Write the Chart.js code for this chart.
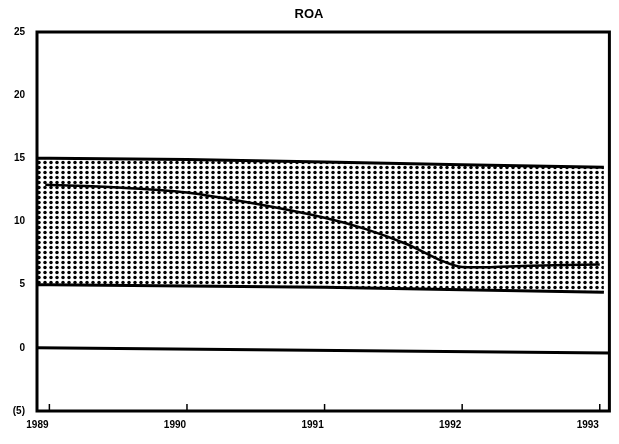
<!DOCTYPE html>
<html>
<head>
<meta charset="utf-8">
<script src="https://cdn.jsdelivr.net/npm/chart.js@4"></script>
<style>
html,body{margin:0;padding:0;background:#fff;}
#wrap{width:619px;height:444px;}
</style>
</head>
<body>
<div id="wrap"><canvas id="c" width="619" height="444"></canvas></div>
<script>
const titleText = "ROA";
const xTickLabels = ["1989", "1990", "1991", "1992", "1993"];
const yTickLabels = { "-5": "(5)", "0": "0", "5": "5", "10": "10", "15": "15", "20": "20", "25": "25" };

const bandX = [-0.09, 0, 1, 2, 3, 4.03];
const bandUpper = [15.0, 15.0, 14.9, 14.7, 14.5, 14.3];
const bandLower = [5.0, 5.0, 4.9, 4.8, 4.6, 4.4];

const roaX = [-0.03, 0.5, 1, 1.5, 2, 2.3, 2.6, 2.85, 3, 3.5, 4];
const roaY = [12.9, 12.7, 12.3, 11.4, 10.3, 9.4, 8.2, 6.9, 6.4, 6.5, 6.6];

const zeroX = [-0.09, 4.07];
const zeroY = [0, -0.4];

function pts(xs, ys) { return xs.map((x, i) => ({ x: x, y: ys[i] })); }

function makePattern() {
  const p = document.createElement('canvas');
  p.width = 6; p.height = 5;
  const g = p.getContext('2d');
  g.fillStyle = '#fff';
  g.fillRect(0, 0, 6, 5);
  g.fillStyle = '#000';
  g.beginPath();
  g.arc(3, 2.5, 1.75, 0, Math.PI * 2);
  g.fill();
  return g.createPattern(p, 'repeat');
}

const ctx = document.getElementById('c').getContext('2d');
const pattern = makePattern();

const frame = {
  id: 'frame',
  afterDatasetsDraw(chart) {
    const { ctx, chartArea: a, scales } = chart;
    ctx.save();
    ctx.strokeStyle = '#000';
    ctx.lineWidth = 3;
    ctx.strokeRect(a.left, a.top, a.right - a.left, a.bottom - a.top);
    ctx.lineWidth = 1.5;
    xTickLabels.forEach((_, i) => {
      const x = scales.x.getPixelForValue(i);
      ctx.beginPath();
      ctx.moveTo(x, a.bottom);
      ctx.lineTo(x, a.bottom - 7);
      ctx.stroke();
    });
    ctx.fillStyle = '#000';
    ctx.font = 'bold 13px "Liberation Sans", Arial, sans-serif';
    ctx.textAlign = 'center';
    ctx.textBaseline = 'middle';
    ctx.fillText(titleText, 309, 14);
    ctx.restore();
  }
};

new Chart(ctx, {
  type: 'line',
  data: {
    datasets: [
      { data: pts(bandX, bandUpper), borderColor: '#000', borderWidth: 3, pointRadius: 0, fill: '+1', backgroundColor: pattern, tension: 0 },
      { data: pts(bandX, bandLower), borderColor: '#000', borderWidth: 3, pointRadius: 0, fill: false, tension: 0 },
      { data: pts(roaX, roaY), borderColor: '#000', borderWidth: 2.5, pointRadius: 0, fill: false, tension: 0.3 },
      { data: pts(zeroX, zeroY), borderColor: '#000', borderWidth: 3, pointRadius: 0, fill: false, tension: 0 }
    ]
  },
  options: {
    responsive: false,
    animation: false,
    layout: { padding: { top: 32, right: 7, left: 0, bottom: 0 } },
    plugins: {
      legend: { display: false }, title: { display: false }, tooltip: { enabled: false },
      filler: { drawTime: 'beforeDatasetsDraw' }
    },
    scales: {
      x: {
        type: 'linear', min: -0.09, max: 4.07,
        grid: { display: false, drawTicks: false },
        border: { display: false },
        afterBuildTicks(scale) { scale.ticks = xTickLabels.map((_, i) => ({ value: i })); },
        afterFit(scale) { scale.height = 33; },
        ticks: {
          autoSkip: false, maxRotation: 0, padding: 8, labelOffset: -12,
          color: '#000', font: { family: '"Liberation Sans", Arial, sans-serif', size: 10, weight: 'bold' },
          callback: (v) => xTickLabels[Math.round(v)]
        }
      },
      y: {
        min: -5, max: 25,
        grid: { display: false, drawTicks: false },
        border: { display: false },
        afterFit(scale) { scale.width = 37; },
        ticks: {
          stepSize: 5, padding: 12,
          color: '#000', font: { family: '"Liberation Sans", Arial, sans-serif', size: 10, weight: 'bold' },
          callback: (v) => yTickLabels[String(v)]
        }
      }
    }
  },
  plugins: [frame]
});
</script>
</body>
</html>
